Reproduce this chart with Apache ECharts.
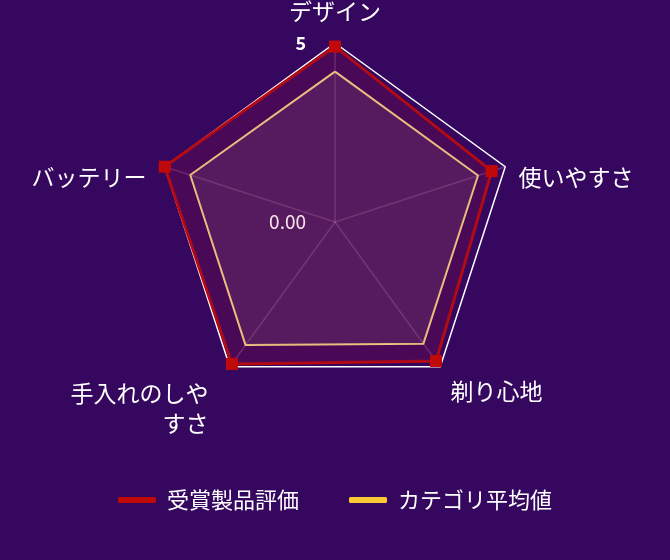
<!DOCTYPE html>
<html>
<head>
<meta charset="UTF-8">
<title>レーダーチャート</title>
<style type="text/css">
	html, body { margin: 0; padding: 0; background: #35075f; }
	#main { width: 670px; height: 560px; }
</style>
</head>
<body>
<div id="main"></div>
<script src="https://cdn.jsdelivr.net/npm/echarts@6/dist/echarts.min.js"></script>
<script type="text/javascript">
// 項目とデータ（時計回り）
var categories = ['デザイン', '使いやすさ', '剃り心地', '手入れのしや\nすさ', 'バッテリー'];
var seriesNames = ['受賞製品評価', 'カテゴリ平均値'];
var awardScores = [4.9, 4.6, 4.8, 4.9, 5.0];
var avgScores = [4.2, 4.2, 4.2, 4.25, 4.25];
var axisMax = 5;

var font = 'Noto Sans CJK JP';
var myChart = echarts.init(document.getElementById('main'));

// echartsのレーダーは反時計回りなので並べ替える
var order = [0, 4, 3, 2, 1];
// 指標名の配置
var nameStyles = [
	{ align: 'center', verticalAlign: 'bottom', padding: [0, 0, 6, 0] },
	{ align: 'left', verticalAlign: 'top', padding: [3, 0, 0, 0] },
	{ align: 'left', verticalAlign: 'top', padding: [2, 0, 0, 2] },
	{ align: 'right', verticalAlign: 'top', padding: [0, 13, 0, 0], lineHeight: 30 },
	{ align: 'right', verticalAlign: 'top', padding: [3, 5, 0, 0] }
];

var indicator = order.map(function (i) {
	return { name: categories[i], min: 0, max: axisMax, nameTextStyle: nameStyles[i] };
});

// 目盛ラベル用（系列の上に描くための2つ目のレーダー）
var labelIndicator = order.map(function (i) {
	var ind = { name: categories[i], min: 0, max: axisMax };
	if (i === 0) {
		ind.axisLabel = {
			show: true,
			margin: 29,
			formatter: function (v) {
				return v === 0 ? '{a|0.00}' : '{b|' + v + '}';
			},
			rich: {
				a: { color: '#f6e0ea', fontSize: 19, fontFamily: font },
				b: { color: '#ffffff', fontSize: 18, fontWeight: 'bold', fontFamily: font }
			}
		};
	}
	return ind;
});

function pick(arr) {
	return order.map(function (i) { return arr[i]; });
}

var option = {
	backgroundColor: '#35075f',
	textStyle: { fontFamily: font },
	legend: {
		bottom: 44,
		left: 'center',
		padding: [5, 5, 5, 13],
		itemGap: 50,
		itemWidth: 38,
		itemHeight: 6,
		icon: 'roundRect',
		textStyle: { color: '#ffffff', fontSize: 22, fontFamily: font, padding: [0, 0, 0, 6] },
		data: [
			{ name: seriesNames[0], itemStyle: { color: '#c00a0a' } },
			{ name: seriesNames[1], itemStyle: { color: '#ffc933' } }
		]
	},
	radar: [{
		center: ['50%', 222],
		radius: 179,
		startAngle: 90,
		splitNumber: 1,
		shape: 'polygon',
		indicator: indicator,
		axisName: { color: '#ffffff', fontSize: 23, fontFamily: font },
		nameGap: 14,
		axisLine: { lineStyle: { color: 'rgba(230,160,210,0.3)', width: 1.5 } },
		axisTick: { show: false },
		axisLabel: { show: false },
		splitLine: { lineStyle: { color: '#ffffff', width: 1.5 } },
		splitArea: { show: false }
	}, {
		z: 5,
		silent: true,
		center: ['50%', 222],
		radius: 179,
		startAngle: 90,
		splitNumber: 1,
		shape: 'polygon',
		indicator: labelIndicator,
		axisName: { show: false },
		axisLine: { show: false },
		axisTick: { show: false },
		axisLabel: { show: false },
		splitLine: { show: false },
		splitArea: { show: false }
	}],
	series: [{
		type: 'radar',
		radarIndex: 0,
		data: [{
			name: seriesNames[0],
			value: pick(awardScores),
			symbol: 'rect',
			symbolSize: 12,
			itemStyle: { color: '#c00a0a' },
			lineStyle: { color: '#c00a0a', width: 3 },
			areaStyle: { color: 'rgba(113,14,75,0.5)' }
		}, {
			name: seriesNames[1],
			value: pick(avgScores),
			symbol: 'none',
			itemStyle: { color: '#ffc933' },
			lineStyle: { color: '#f2c47e', width: 2 },
			areaStyle: { color: 'rgba(150,112,132,0.25)' }
		}]
	}]
};
myChart.setOption(option);
</script>
</body>
</html>
